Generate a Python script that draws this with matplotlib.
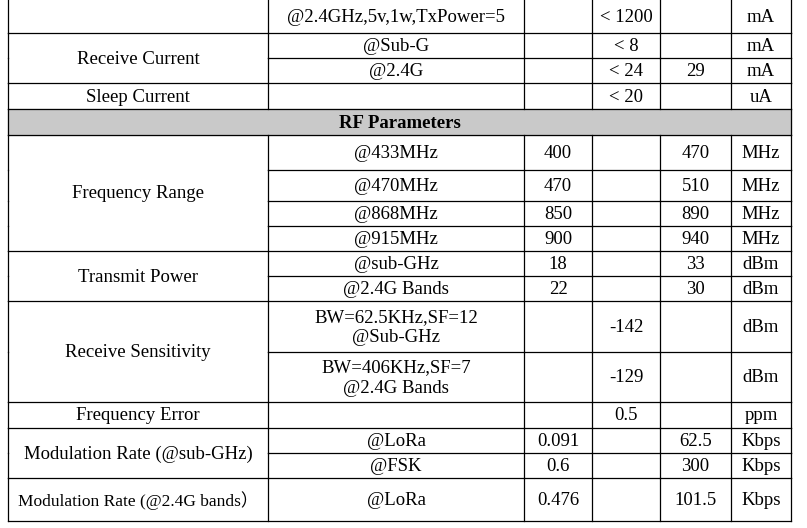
import matplotlib.pyplot as plt

plt.rcParams['font.family'] = ['Liberation Serif', 'Noto Sans CJK SC', 'DejaVu Sans']

# table layout (pixels)
col_edges = [8, 268, 524, 592, 660, 731, 791]
row_edges = [0, 33, 58, 83, 109, 135, 170, 201, 226, 251, 276, 301, 352, 402, 428, 453, 478, 521]
header_row = 4

# col-1 labels: (first row, row count, text)
group_labels = [
    (1, 2, "Receive Current"),
    (3, 1, "Sleep Current"),
    (5, 4, "Frequency Range"),
    (9, 2, "Transmit Power"),
    (11, 2, "Receive Sensitivity"),
    (13, 1, "Frequency Error"),
    (14, 2, "Modulation Rate (@sub-GHz)"),
    (16, 1, "Modulation Rate (@2.4G bands）"),
]
conditions = ["@2.4GHz,5v,1w,TxPower=5", "@Sub-G", "@2.4G", "", None,
              "@433MHz", "@470MHz", "@868MHz", "@915MHz", "@sub-GHz", "@2.4G Bands",
              "BW=62.5KHz,SF=12\n@Sub-GHz", "BW=406KHz,SF=7\n@2.4G Bands", "",
              "@LoRa", "@FSK", "@LoRa"]
min_vals = ["", "", "", "", None, "400", "470", "850", "900", "18", "22", "", "", "",
            "0.091", "0.6", "0.476"]
typ_vals = ["< 1200", "< 8", "< 24", "< 20", None, "", "", "", "", "", "", "-142", "-129",
            "0.5", "", "", ""]
max_vals = ["", "", "29", "", None, "470", "510", "890", "940", "33", "30", "", "", "",
            "62.5", "300", "101.5"]
units = ["mA", "mA", "mA", "uA", None, "MHz", "MHz", "MHz", "MHz", "dBm", "dBm", "dBm",
         "dBm", "ppm", "Kbps", "Kbps", "Kbps"]

fig = plt.figure(figsize=(8.07, 5.28), dpi=100)
ax = fig.add_axes([0, 0, 1, 1])
ax.set_xlim(0, 807)
ax.set_ylim(528, 0)
ax.axis('off')

lw = 0.9
# rows inside a merged col-1 cell
inner = set()
for r0, n, _ in group_labels:
    for k in range(1, n):
        inner.add(r0 + k)

for i, y in enumerate(row_edges):
    if i == 0:
        continue
    x0 = col_edges[1] if i in inner else col_edges[0]
    ax.plot([x0, col_edges[-1]], [y, y], color='black', lw=lw)

for r in range(len(row_edges) - 1):
    y0, y1 = row_edges[r], row_edges[r + 1]
    xs = [col_edges[0], col_edges[-1]] if r == header_row else col_edges
    for x in xs:
        ax.plot([x, x], [y0, y1], color='black', lw=lw)

# header row
hy0, hy1 = row_edges[header_row], row_edges[header_row + 1]
ax.fill_between([col_edges[0], col_edges[-1]], hy0, hy1, color='#c9c9c9', zorder=0)
ax.text((col_edges[0] + col_edges[-1]) / 2, (hy0 + hy1) / 2 + 1, "RF Parameters",
        ha='center', va='center', fontsize=13.5, fontweight='bold')

fs = 13.5
for r0, n, label in group_labels:
    yc = (row_edges[r0] + row_edges[r0 + n]) / 2 + 1
    size = 12.5 if r0 == 16 else fs
    ax.text((col_edges[0] + col_edges[1]) / 2, yc, label, ha='center', va='center', fontsize=size)

columns = [conditions, min_vals, typ_vals, max_vals, units]
for c, vals in enumerate(columns, start=1):
    xc = (col_edges[c] + col_edges[c + 1]) / 2
    for r, v in enumerate(vals):
        if not v:
            continue
        yc = (row_edges[r] + row_edges[r + 1]) / 2 + 1
        ax.text(xc, yc, v, ha='center', va='center', fontsize=fs, linespacing=1.25)

fig.savefig('out.png', dpi=100, facecolor='white')
